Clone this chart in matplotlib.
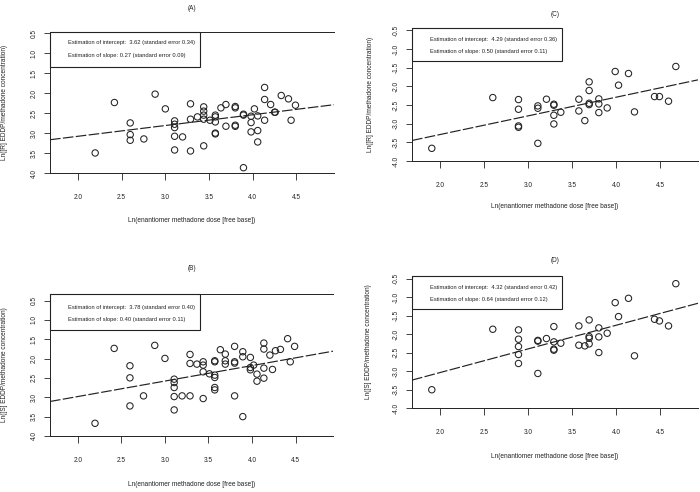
import matplotlib
matplotlib.use("Agg")
import matplotlib.pyplot as plt
from matplotlib.patches import Rectangle
from matplotlib.ticker import FuncFormatter

plt.rcParams["font.family"] = ["Liberation Sans", "DejaVu Sans"]
plt.rcParams["axes.unicode_minus"] = False

# panel A: [R] enantiomer, first cohort
dose_a = [2.197, 2.417, 2.598, 2.598, 2.598, 2.754, 2.883, 3.0, 3.106, 3.106,
          3.106, 3.106, 3.106, 3.197, 3.288, 3.288, 3.288, 3.367, 3.439, 3.439,
          3.439, 3.439, 3.439, 3.511, 3.572, 3.572, 3.572, 3.572, 3.572, 3.636,
          3.693, 3.693, 3.8, 3.8, 3.8, 3.8, 3.894, 3.894, 3.894, 3.981,
          3.981, 3.981, 4.019, 4.057, 4.057, 4.057, 4.136, 4.136, 4.136, 4.205,
          4.25, 4.257, 4.326, 4.409, 4.439, 4.489]
ratio_a = [-3.498, -2.234, -2.745, -3.038, -3.18, -3.147, -2.024, -2.393, -2.694, -2.778,
           -2.862, -3.08, -3.423, -3.096, -2.267, -2.652, -3.448, -2.594, -2.343, -2.45,
           -2.55, -2.652, -3.32, -2.678, -2.55, -2.594, -2.72, -3.0, -3.02, -2.368,
           -2.284, -2.828, -2.334, -2.368, -2.803, -2.83, -2.527, -2.55, -3.867, -2.736,
           -2.97, -2.577, -2.393, -2.569, -2.937, -3.222, -1.857, -2.158, -2.678, -2.284,
           -2.477, -2.477, -2.058, -2.142, -2.678, -2.301]

# panel B: [S] enantiomer, first cohort
dose_b = [2.197, 2.417, 2.598, 2.598, 2.598, 2.754, 2.883, 3.0, 3.106, 3.106,
          3.106, 3.106, 3.106, 3.197, 3.288, 3.288, 3.288, 3.367, 3.439, 3.439,
          3.439, 3.439, 3.511, 3.572, 3.572, 3.572, 3.572, 3.572, 3.572, 3.636,
          3.693, 3.693, 3.693, 3.8, 3.8, 3.8, 3.8, 3.894, 3.894, 3.894,
          3.981, 3.981, 3.981, 4.019, 4.057, 4.057, 4.136, 4.136, 4.136, 4.136,
          4.205, 4.235, 4.269, 4.326, 4.409, 4.439, 4.489]
ratio_b = [-3.672, -1.736, -2.185, -2.497, -3.223, -2.963, -1.658, -1.995, -2.531, -2.618,
           -2.747, -2.981, -3.326, -2.963, -1.892, -2.125, -2.963, -2.142, -2.082, -2.168,
           -2.341, -3.032, -2.393, -2.056, -2.082, -2.427, -2.488, -2.747, -2.808, -1.77,
           -1.883, -2.056, -2.142, -1.684, -2.082, -2.116, -2.963, -1.822, -1.952, -3.499,
           -1.969, -2.229, -2.289, -2.168, -2.401, -2.583, -1.598, -1.753, -2.246, -2.505,
           -1.909, -2.28, -1.796, -1.762, -1.485, -2.082, -1.684]

# panel C: [R] enantiomer, second cohort
dose_c = [1.905, 2.598, 2.89, 2.89, 2.89, 2.89, 3.11, 3.11, 3.11, 3.208,
          3.292, 3.292, 3.292, 3.292, 3.371, 3.576, 3.576, 3.644, 3.693, 3.693,
          3.693, 3.693, 3.803, 3.803, 3.803, 3.898, 3.989, 4.027, 4.14, 4.208,
          4.436, 4.492, 4.595, 4.678]
ratio_c = [-3.66, -2.30, -2.353, -2.613, -3.06, -3.096, -3.526, -2.523, -2.586, -2.344,
           -2.478, -2.505, -2.774, -3.007, -2.693, -2.344, -2.658, -2.917, -1.879, -2.111,
           -2.452, -2.488, -2.335, -2.47, -2.702, -2.577, -1.601, -1.968, -1.655, -2.684,
           -2.273, -2.273, -2.398, -1.467]

# panel D: [S] enantiomer, second cohort
dose_d = [1.905, 2.598, 2.89, 2.89, 2.89, 2.89, 2.89, 3.11, 3.11, 3.11,
          3.208, 3.292, 3.292, 3.292, 3.292, 3.371, 3.576, 3.576, 3.644, 3.693,
          3.693, 3.693, 3.693, 3.803, 3.803, 3.803, 3.898, 3.989, 4.027, 4.14,
          4.208, 4.436, 4.492, 4.595, 4.678]
ratio_d = [-3.506, -1.868, -1.886, -2.138, -2.336, -2.552, -2.795, -3.065, -2.17, -2.19,
           -2.12, -1.796, -2.21, -2.408, -2.435, -2.246, -1.778, -2.3, -2.318, -1.616,
           -2.066, -2.111, -2.264, -1.832, -2.075, -2.498, -1.976, -1.148, -1.526, -1.031,
           -2.588, -1.598, -1.643, -1.778, -0.635]

intercepts = [-3.62, -3.78, -4.29, -4.32]
slopes = [0.27, 0.40, 0.50, 0.64]
panel_titles = ["(A)", "(B)", "(C)", "(D)"]
legend_lines = [
    ("Estimation of intercept:  3.62 (standard error 0.34)",
     "Estimation of slope: 0.27 (standard error 0.09)"),
    ("Estimation of intercept:  3.78 (standard error 0.40)",
     "Estimation of slope: 0.40 (standard error 0.11)"),
    ("Estimation of intercept:  4.29 (standard error 0.36)",
     "Estimation of slope: 0.50 (standard error 0.11)"),
    ("Estimation of intercept:  4.32 (standard error 0.42)",
     "Estimation of slope: 0.64 (standard error 0.12)"),
]
ylabels = ["Ln([R] EDDP/methadone concentration)", "Ln([S] EDDP/methadone concentration)",
           "Ln([R] EDDP/methadone concentration)", "Ln([S] EDDP/methadone concentration)"]
xlabel = "Ln(enantiomer methadone dose [free base])"
xticks = [2.0, 2.5, 3.0, 3.5, 4.0, 4.5]
yticks = [-0.5, -1.0, -1.5, -2.0, -2.5, -3.0, -3.5, -4.0]

W, H = 700, 492
INK = "#222222"
FS = 4.7

# layout in pixels: axes box (l, t, r, b), ylim top, legend box bottom,
# legend text rows, title y, xlabel y, ylabel x
layout = [
    dict(box=(50, 32, 334, 173), ytop=-0.467, leg=67, rows=(43, 56), ty=9, xl=220, yl=5,
         top=True, absy=True),
    dict(box=(50, 294, 333, 436), ytop=-0.33, leg=330, rows=(308, 319), ty=269, xl=485, yl=5,
         top=True, absy=True),
    dict(box=(412, 28, 698, 161), ytop=-0.435, leg=61, rows=(39, 51), ty=15, xl=207, yl=371,
         top=False, absy=False),
    dict(box=(412, 276, 698, 408), ytop=-0.427, leg=309, rows=(288, 299), ty=261, xl=456, yl=369,
         top=False, absy=False),
]
datasets = [(dose_a, ratio_a), (dose_b, ratio_b), (dose_c, ratio_c), (dose_d, ratio_d)]

fig = plt.figure(figsize=(7.0, 4.92), dpi=100)

for i, (cfg, (xs, ys)) in enumerate(zip(layout, datasets)):
    l, t, r, b = cfg["box"]
    ax = fig.add_axes([l / W, 1 - b / H, (r - l) / W, (b - t) / H])
    ax.scatter(xs, ys, s=21, facecolors="none", edgecolors=INK, linewidths=0.75, zorder=3)
    ax.axline((0, intercepts[i]), slope=slopes[i], color=INK, linewidth=0.85,
              linestyle=(0, (9, 2)), zorder=2)
    ax.set_xlim(1.68, 4.93)
    ax.set_ylim(-4.0, cfg["ytop"])
    ax.set_xticks(xticks)
    ax.set_yticks(yticks)
    if cfg["absy"]:
        ax.yaxis.set_major_formatter(FuncFormatter(lambda v, p: f"{abs(v):.1f}"))
    else:
        ax.yaxis.set_major_formatter(FuncFormatter(lambda v, p: f"{v:.1f}"))
    ax.tick_params(axis="x", length=5, width=0.6, pad=10, labelsize=FS, colors=INK)
    ax.tick_params(axis="y", length=4, width=0.6, pad=5, labelsize=FS, colors=INK)
    for lab in ax.get_yticklabels():
        lab.set_rotation(90)
        lab.set_va("center")
    for side in ["left", "bottom", "top"]:
        ax.spines[side].set_linewidth(0.7)
        ax.spines[side].set_color(INK)
    ax.spines["right"].set_visible(False)
    ax.spines["top"].set_visible(cfg["top"])

    # legend box with the fit estimates
    leg_h = (cfg["leg"] - t) / (b - t)
    ax.add_patch(Rectangle((0, 1 - leg_h), 150 / (r - l), leg_h, transform=ax.transAxes,
                           facecolor="white", edgecolor=INK, linewidth=0.8, zorder=4,
                           clip_on=False))
    for row, txt in zip(cfg["rows"], legend_lines[i]):
        ax.text(18 / (r - l), 1 - (row - t) / (b - t), txt, transform=ax.transAxes,
                fontsize=4.15, color=INK, va="center", ha="left", zorder=5)

    cx = (l + r) / 2
    fig.text(cx / W, 1 - cfg["ty"] / H, panel_titles[i], fontsize=FS, color=INK,
             ha="center", va="center")
    fig.text(cx / W, 1 - cfg["xl"] / H, xlabel, fontsize=FS, color=INK,
             ha="center", va="center")
    fig.text(cfg["yl"] / W, 1 - ((t + b) / 2) / H, ylabels[i], fontsize=FS, color=INK,
             ha="center", va="center", rotation=90)

fig.savefig("out.png", dpi=100, facecolor="white")
